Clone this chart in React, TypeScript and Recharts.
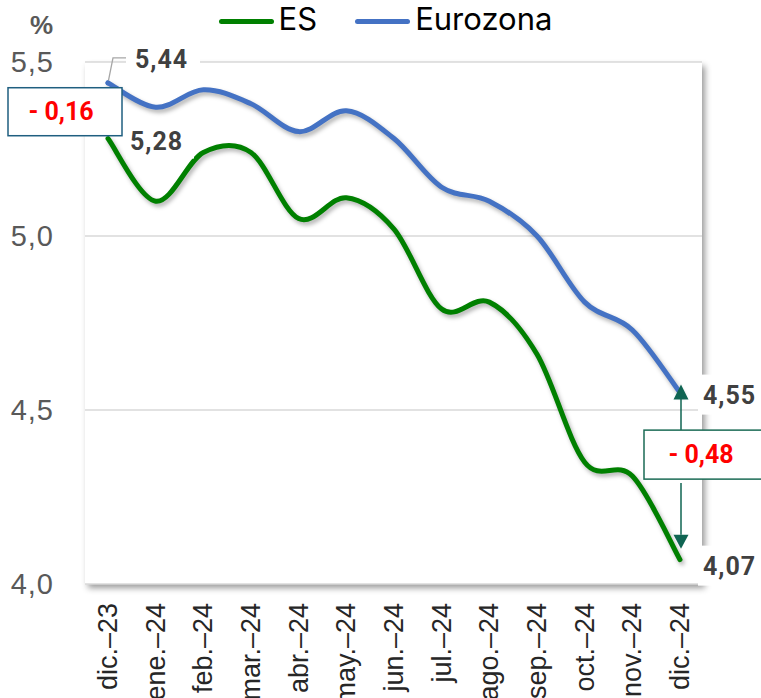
import { LineChart, Line, XAxis, YAxis, CartesianGrid, Legend, LabelList, ReferenceLine, Label } from 'recharts';

const months = ['dic.–23', 'ene.–24', 'feb.–24', 'mar.–24', 'abr.–24', 'may.–24', 'jun.–24', 'jul.–24', 'ago.–24', 'sep.–24', 'oct.–24', 'nov.–24', 'dic.–24'];
const esValues = [5.28, 5.1, 5.24, 5.24, 5.05, 5.11, 5.02, 4.79, 4.81, 4.66, 4.35, 4.31, 4.07];
const euroValues = [5.44, 5.37, 5.42, 5.38, 5.3, 5.36, 5.28, 5.14, 5.1, 5.0, 4.81, 4.73, 4.55];
const yTicks = [4, 4.5, 5, 5.5];
const seriesNames = ['ES', 'Eurozona'];
const seriesColors = ['#008000', '#4472C4'];

const data = months.map((m, i) => ({ month: m, es: esValues[i], euro: euroValues[i] }));
const last = months.length - 1;

const fmt = (v: number, d: number) => v.toFixed(d).replace('.', ',');
const gapText = (a: number, b: number) => (a - b < 0 ? '- ' : '') + fmt(Math.abs(a - b), 2);

const labelFont = 'Roboto, sans-serif';
const axisFont = '"Liberation Sans", Arial, sans-serif';

// smooth line like excel's (catmull-rom style bezier)
const excelSmooth = (context: any) => {
  let px: number[] = [];
  let py: number[] = [];
  return {
    areaStart() {},
    areaEnd() {},
    lineStart() {
      px = [];
      py = [];
    },
    point(x: number, y: number) {
      px.push(+x);
      py.push(+y);
    },
    lineEnd() {
      const n = px.length;
      if (!n) return;
      context.moveTo(px[0], py[0]);
      for (let i = 0; i < n - 1; i++) {
        const a = Math.max(i - 1, 0);
        const d = Math.min(i + 2, n - 1);
        context.bezierCurveTo(
          px[i] + (px[i + 1] - px[a]) / 6,
          py[i] + (py[i + 1] - py[a]) / 6,
          px[i + 1] - (px[d] - px[i]) / 6,
          py[i + 1] - (py[d] - py[i]) / 6,
          px[i + 1],
          py[i + 1]
        );
      }
    },
  };
};

const pos = (props: any) => {
  const vb = props.viewBox || {};
  return { x: props.x ?? vb.x, y: props.y ?? vb.y };
};

const valueText = (x: number, y: number, value: number) => (
  <text x={x} y={y} dominantBaseline="central" fontFamily={labelFont} fontWeight={700} fontSize={25} letterSpacing={1} fill="#404040">
    {fmt(value, 2)}
  </text>
);

const EuroLabel = (props: any) => {
  const { x, y } = pos(props);
  if (props.index === 0) {
    return (
      <g>
        <polyline points={`${x},${y} ${x + 5},${y - 25} ${x + 18},${y - 25}`} fill="none" stroke="#a6a6a6" strokeWidth={1.3} />
        <circle cx={x} cy={y} r={2.5} fill={seriesColors[1]} />
        <rect x={x + 18} y={y - 38} width={74} height={30} fill="#fff" />
        {valueText(x + 27, y - 23, props.value)}
      </g>
    );
  }
  if (props.index === last) {
    return (
      <g>
        <rect x={x + 18} y={y - 18} width={70} height={40} fill="#fff" />
        {valueText(x + 23, y + 3, props.value)}
      </g>
    );
  }
  return null;
};

const EsLabel = (props: any) => {
  const { x, y } = pos(props);
  if (props.index === 0) {
    return (
      <g>
        <rect x={x + 18} y={y - 14} width={68} height={34} fill="#fff" />
        {valueText(x + 22, y + 3, props.value)}
      </g>
    );
  }
  if (props.index === last) {
    return (
      <g>
        <rect x={x + 18} y={y - 14} width={70} height={40} fill="#fff" />
        {valueText(x + 23, y + 7, props.value)}
      </g>
    );
  }
  return null;
};

const StartGap = (p: any) => {
  const x = p.x1;
  const cy = (p.y1 + p.y2) / 2 + 1;
  return (
    <g>
      <rect x={x - 100} y={cy - 24} width={114} height={48} fill="#fff" stroke="#1F5F80" strokeWidth={1.5} />
      <text x={x - 47} y={cy} textAnchor="middle" dominantBaseline="central" fontFamily={labelFont} fontWeight={700} fontSize={25} fill="#FF0000">
        {gapText(esValues[0], euroValues[0])}
      </text>
    </g>
  );
};

const EndGap = (p: any) => {
  const x = p.x1 + 1;
  const top = Math.min(p.y1, p.y2);
  const bot = Math.max(p.y1, p.y2);
  const mid = (top + bot) / 2;
  const boxTop = mid - 46;
  const boxBot = mid + 3;
  const c = '#0F6452';
  return (
    <g>
      <line x1={x} y1={boxTop} x2={x} y2={top + 6} stroke={c} strokeWidth={1.5} />
      <polygon points={`${x},${top - 8} ${x - 7.5},${top + 7} ${x + 7.5},${top + 7}`} fill={c} />
      <line x1={x} y1={boxBot + 4} x2={x} y2={bot - 25} stroke={c} strokeWidth={1.5} />
      <polygon points={`${x},${bot - 11} ${x - 7.5},${bot - 25} ${x + 7.5},${bot - 25}`} fill={c} />
      <rect x={x - 37} y={boxTop} width={140} height={boxBot - boxTop} fill="#fff" stroke="#1B6B55" strokeWidth={1.5} />
      <text x={x + 20} y={(boxTop + boxBot) / 2} textAnchor="middle" dominantBaseline="central" fontFamily={labelFont} fontWeight={700} fontSize={25} fill="#FF0000">
        {gapText(esValues[last], euroValues[last])}
      </text>
    </g>
  );
};

const MonthTick = (props: any) => {
  const { x, y, payload } = props;
  return (
    <text x={x} y={y} transform={`rotate(-90, ${x}, ${y})`} textAnchor="end" dominantBaseline="central" fontFamily={axisFont} fontSize={27} fill="#262626">
      {payload.value}
    </text>
  );
};

const PercentLabel = (props: any) => {
  const vb = props.viewBox || {};
  return (
    <text x={vb.x + vb.width / 2 - 1} y={vb.y - 37} textAnchor="middle" dominantBaseline="central" fontFamily={axisFont} fontWeight={700} fontSize={26} fill="#595959">
      %
    </text>
  );
};

const renderLegend = () => (
  <div style={{ display: 'flex', justifyContent: 'center', alignItems: 'center', gap: 38, fontFamily: 'Inter, sans-serif', fontSize: 31, color: '#000', lineHeight: '36px' }}>
    {seriesNames.map((n, i) => (
      <div key={n} style={{ display: 'flex', alignItems: 'center' }}>
        <span style={{ display: 'inline-block', width: 55, height: 5, borderRadius: 3, background: seriesColors[i], marginRight: 5, marginTop: 4 }} />
        <span>{n}</span>
      </div>
    ))}
  </div>
);

export default function App() {
  return (
    <div style={{ position: 'absolute', left: 0, top: 0, width: 761, height: 698, background: '#fff' }}>
      <style>{`
        .recharts-cartesian-grid-bg { filter: drop-shadow(3px 4px 3px rgba(0,0,0,0.4)); }
        .recharts-line-curve { filter: drop-shadow(2px 3px 2px rgba(0,0,0,0.3)); }
      `}</style>
      <LineChart width={761} height={698} data={data} margin={{ top: 62, right: 59, left: 0, bottom: 0 }}>
        <CartesianGrid vertical={false} stroke="#d9d9d9" strokeWidth={1.5} fill="#fff" />
        <XAxis
          dataKey="month"
          height={114}
          padding={{ left: 23, right: 22 }}
          axisLine={false}
          tickLine={false}
          tick={<MonthTick />}
          tickMargin={13}
          interval={0}
        />
        <YAxis
          width={85}
          domain={[4, 5.5]}
          ticks={yTicks}
          axisLine={false}
          tickLine={false}
          tickMargin={25}
          tickFormatter={(v: number) => fmt(v, 1)}
          tick={{ fontSize: 29, fill: '#595959', fontFamily: axisFont, letterSpacing: 1 }}
        >
          <Label position="top" content={PercentLabel} />
        </YAxis>
        <Legend verticalAlign="middle" align="center" layout="horizontal" wrapperStyle={{ top: 1, left: 5, width: 761 }} content={renderLegend} />
        <Line
          type={excelSmooth as any}
          dataKey="es"
          name={seriesNames[0]}
          stroke={seriesColors[0]}
          strokeWidth={5}
          strokeLinecap="round"
          dot={false}
          activeDot={false}
          isAnimationActive={false}
        >
          <LabelList dataKey="es" content={<EsLabel />} />
        </Line>
        <Line
          type={excelSmooth as any}
          dataKey="euro"
          name={seriesNames[1]}
          stroke={seriesColors[1]}
          strokeWidth={5}
          strokeLinecap="round"
          dot={false}
          activeDot={false}
          isAnimationActive={false}
        >
          <LabelList dataKey="euro" content={<EuroLabel />} />
        </Line>
        <ReferenceLine
          segment={[{ x: months[0], y: euroValues[0] }, { x: months[0], y: esValues[0] }]}
          shape={StartGap}
        />
        <ReferenceLine
          segment={[{ x: months[last], y: euroValues[last] }, { x: months[last], y: esValues[last] }]}
          shape={EndGap}
        />
      </LineChart>
    </div>
  );
}
